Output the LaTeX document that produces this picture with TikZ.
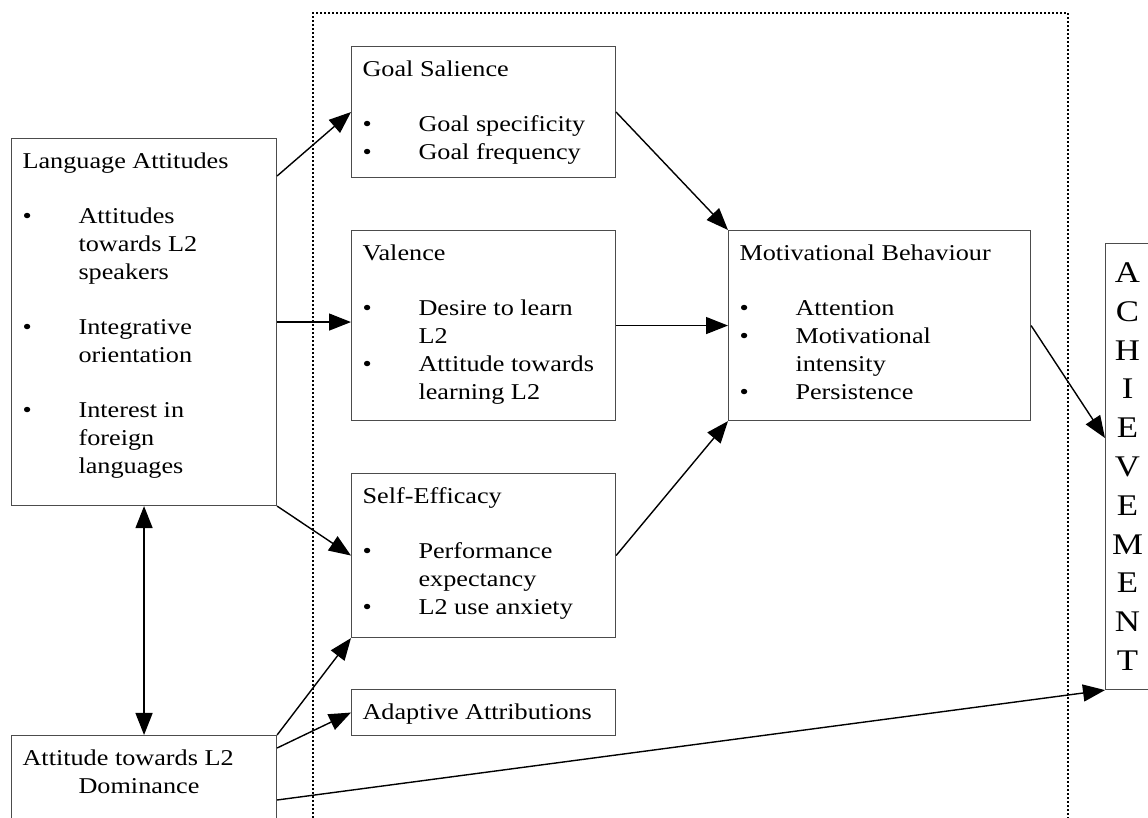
\documentclass[tikz,border=0pt]{standalone}
\usepackage{fontspec}
\setmainfont[FakeStretch=1.16]{Liberation Serif}
\usetikzlibrary{arrows.meta}

% fixed-size text block, top aligned
\newcommand{\panel}[3]{\begin{minipage}[t][#2][t]{#1}\raggedright\rule{0pt}{15pt}#3\end{minipage}}
% bullet line with hanging indent
\newcommand{\blt}[1]{\par\noindent\hangindent=28pt\hangafter=1\makebox[28pt][l]{\textbullet}#1}
\newcommand{\gap}{\par\vspace{\baselineskip}}

\begin{document}
\begin{tikzpicture}[x=0.5pt, y=-0.5pt,
    panelbox/.style={draw=black!70, line width=0.55pt, anchor=north west, inner xsep=5.5pt, inner ysep=0pt,
        font=\fontsize{11.3pt}{13.85pt}\selectfont},
    arr/.style={-{Triangle[length=11pt,width=8.5pt]}, line width=0.7pt},
    arrboth/.style={{Triangle[length=11pt,width=8.5pt]}-{Triangle[length=11pt,width=8.5pt]}, line width=0.7pt},
    dotframe/.style={line width=0.7pt, dash pattern=on 1pt off 1pt}]

    \useasboundingbox (0,0) rectangle (1148,818);
    \clip (0,0) rectangle (1148,818);

    % Dotted frame round the middle part (open at the bottom)
    \draw[dotframe] (313,830) |- (1068,13) -- (1068,830);

    % Left column
    \node[panelbox] (lang) at (11,138) {\panel{121.5pt}{183.5pt}{Language Attitudes\gap
        \blt{Attitudes\newline towards L2\newline speakers}\gap
        \blt{Integrative\newline orientation}\gap
        \blt{Interest in\newline foreign\newline languages}}};
    \node[panelbox] (dom) at (11,735) {\panel{121.5pt}{60pt}{Attitude towards L2\newline\hspace*{28pt}Dominance}};

    % Middle column
    \node[panelbox] (goal) at (351,46) {\panel{121pt}{65.5pt}{Goal Salience\gap
        \blt{Goal specificity}
        \blt{Goal frequency}}};
    \node[panelbox] (val) at (351,230) {\panel{121pt}{95pt}{Valence\gap
        \blt{Desire to learn\newline L2}
        \blt{Attitude towards\newline learning L2}}};
    \node[panelbox] (eff) at (351,473) {\panel{121pt}{82pt}{Self-Efficacy\gap
        \blt{Performance\newline expectancy}
        \blt{L2 use anxiety}}};
    \node[panelbox] (attr) at (351,689) {\panel{121pt}{23pt}{Adaptive Attributions}};

    % Right part
    \node[panelbox] (beh) at (728,230) {\panel{140pt}{95pt}{Motivational Behaviour\gap
        \blt{Attention}
        \blt{Motivational\newline intensity}
        \blt{Persistence}}};
    \node[panelbox, inner xsep=0pt, font=\fontsize{15pt}{19.4pt}\selectfont] (ach) at (1105,243)
        {\begin{minipage}[t][223pt][t]{30pt}\centering\rightskip=8pt plus 1fil
         \rule{0pt}{19.5pt}A\\C\\H\\I\\E\\V\\E\\M\\E\\N\\T\end{minipage}};

    % Draw connections
    \draw[arr] ([yshift=-19pt]lang.north east) -- (goal.west);
    \draw[arr] (lang.east) -- (lang.east -| val.west);
    \draw[arr] (lang.south east) -- (eff.west);
    \draw[arrboth] (lang.south) -- (dom.north);
    \draw[arr] (dom.north east) -- (eff.south west);
    \draw[arr] ([yshift=-6.5pt]dom.north east) -- (attr.west);
    \draw[arr] ([yshift=-32.5pt]dom.north east) -- (ach.south west);
    \draw[arr] (goal.east) -- (beh.north west);
    \draw[arr] (val.east) -- (beh.west);
    \draw[arr] (eff.east) -- (beh.south west);
    \draw[arr] (beh.east) -- ([yshift=-97.5pt]ach.north west);
\end{tikzpicture}
\end{document}
